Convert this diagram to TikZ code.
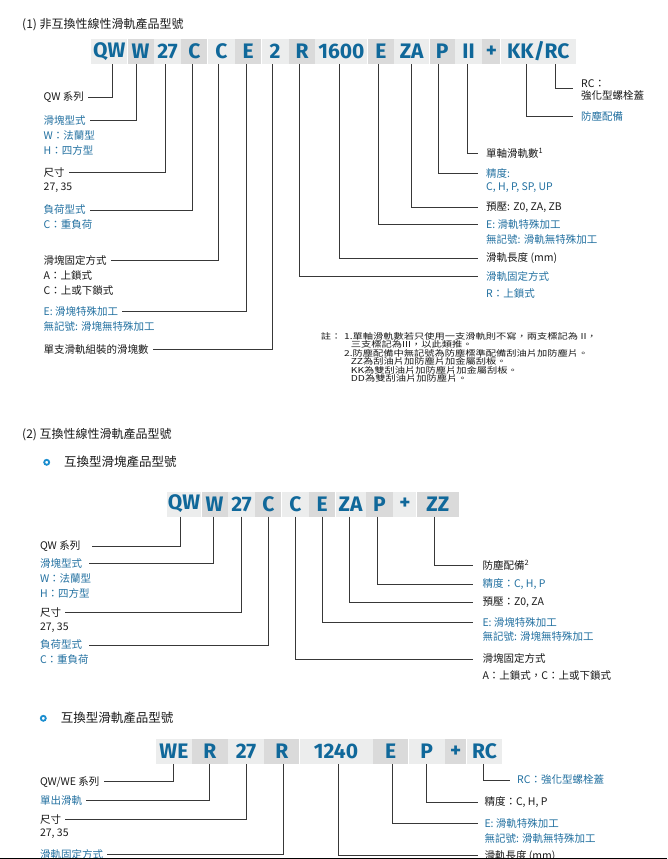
\documentclass[tikz,border=0pt]{standalone}
\usepackage{fontspec}
\setmainfont{Noto Sans CJK TC}
\newfontfamily\codefont{Fira Sans}
\newfontfamily\notefont{Noto Sans CJK TC}[FakeStretch=1.25]
\usepackage{tikz}
\usetikzlibrary{
    positioning
}
\usepackage{xcolor}
\definecolor{codeblue}{HTML}{10689A}
\definecolor{labelblue}{HTML}{2270A0}
\definecolor{celllight}{HTML}{ECEDED}
\definecolor{celldark}{HTML}{DADADA}
\definecolor{leadgray}{HTML}{383838}
\definecolor{ringblue}{HTML}{1C8ECF}
\tikzstyle{cell} = [
    rectangle,
    inner sep=0pt,
    minimum height=25pt,
    text=codeblue,
    font=\codefont\bfseries\fontsize{21}{21}\selectfont
]
\tikzstyle{lcell} = [cell, fill=celllight]
\tikzstyle{dcell} = [cell, fill=celldark]
\tikzstyle{lbl} = [
    anchor=west,
    inner ysep=0pt,
    inner xsep=4pt,
    text=black!90,
    font=\fontsize{10.5}{12}\selectfont
]
\tikzstyle{blbl} = [lbl, text=labelblue]
\tikzstyle{rlbl} = [lbl, inner xsep=8pt]
\tikzstyle{rblbl} = [blbl, inner xsep=8pt]
\tikzstyle{leader} = [
    draw=leadgray,
    line width=1pt
]
\tikzstyle{heading} = [
    anchor=west,
    inner sep=0pt,
    text=black!90,
    font=\fontsize{12}{14}\selectfont
]
\tikzstyle{note} = [
    anchor=west,
    inner sep=0pt,
    text=black!90,
    font=\notefont\fontsize{8.2}{9}\selectfont
]
\tikzstyle{ring} = [draw=ringblue, line width=1.8pt]

\begin{document}
\begin{tikzpicture}[x=1pt, y=-1pt]
    \useasboundingbox (0,0) rectangle (667,859);

    % (1) code row
    \node[heading] (sec1) at (22,25) {(1) 非互換性線性滑軌產品型號};
    \node[lcell, minimum width=36pt, anchor=west] (qw1) at (91,51.5) {QW};
    \node[dcell, minimum width=26pt, right=0pt of qw1] (w1) {W};
    \node[lcell, minimum width=27pt, right=0pt of w1] (sz1) {27};
    \node[dcell, minimum width=26pt, right=0pt of sz1] (ld1) {C};
    \node[lcell, minimum width=27pt, right=0pt of ld1] (fx1) {C};
    \node[dcell, minimum width=26pt, right=0pt of fx1] (e1) {E};
    \node[lcell, minimum width=27pt, right=0pt of e1] (cnt1) {2};
    \node[dcell, minimum width=26pt, right=0pt of cnt1] (r1) {R};
    \node[lcell, minimum width=52pt, right=0pt of r1] (len1) {1600};
    \node[dcell, minimum width=26pt, right=0pt of len1] (re1) {E};
    \node[lcell, minimum width=35pt, right=0pt of re1] (pre1) {ZA};
    \node[dcell, minimum width=25pt, right=0pt of pre1] (acc1) {P};
    \node[lcell, minimum width=27pt, right=0pt of acc1] (ii1) {II};
    \node[dcell, minimum width=18pt, right=0pt of ii1] (plus1) {+};
    \node[lcell, minimum width=75pt, right=0pt of plus1] (kk1) {KK/RC};

    % (1) left labels
    \node[lbl] (sys1) at (39.5,97.3) {QW 系列};
    \node[blbl] (blk1) at (39.5,120.7) {滑塊型式};
    \node[blbl] (blkw1) at (39.5,135.5) {W：法蘭型};
    \node[blbl] (blkh1) at (39.5,150) {H：四方型};
    \node[lbl] (size1) at (39.5,172.7) {尺寸};
    \node[lbl] (sizev1) at (39.5,188) {27, 35};
    \node[blbl] (load1) at (39.5,210) {負荷型式};
    \node[blbl] (loadc1) at (39.5,225) {C：重負荷};
    \node[lbl] (fix1) at (39.5,260.7) {滑塊固定方式};
    \node[lbl] (fixa1) at (39.5,275.3) {A：上鎖式};
    \node[lbl] (fixc1) at (39.5,290) {C：上或下鎖式};
    \node[blbl] (spe1) at (39.5,311.7) {E: 滑塊特殊加工};
    \node[blbl] (spn1) at (39.5,327) {無記號: 滑塊無特殊加工};
    \node[lbl] (num1) at (39.5,349.3) {單支滑軌組裝的滑塊數};
    \draw[leader] ([xshift=3pt]qw1.south) |- (sys1.east);
    \draw[leader] ([xshift=-4pt]w1.south) |- (blk1.east);
    \draw[leader] ([xshift=-2.5pt]sz1.south) |- (size1.east);
    \draw[leader] ([xshift=-2pt]ld1.south) |- (load1.east);
    \draw[leader] ([xshift=-2.5pt]fx1.south) |- (fix1.east);
    \draw[leader] ([xshift=-2pt]e1.south) |- (spe1.east);
    \draw[leader] ([xshift=-2.5pt]cnt1.south) |- (num1.east);

    % (1) right labels
    \node[rlbl, align=left] (rc1) at (573,90) {RC：\\強化型螺栓蓋};
    \node[rblbl] (dust1) at (573,116.5) {防塵配備};
    \node[rlbl] (rails1) at (478,153.3) {單軸滑軌數\textsuperscript{1}};
    \node[rblbl] (prec1) at (478,173.3) {精度:};
    \node[rblbl] (precv1) at (478,187.5) {C, H, P, SP, UP};
    \node[rlbl] (prel1) at (478,207.3) {預壓: Z0, ZA, ZB};
    \node[rblbl] (rspe1) at (478,224.3) {E: 滑軌特殊加工};
    \node[rblbl] (rspn1) at (478,239.3) {無記號: 滑軌無特殊加工};
    \node[rlbl] (rlen1) at (478,258.3) {滑軌長度 (mm)};
    \node[rblbl] (rfix1) at (478,276.7) {滑軌固定方式};
    \node[rblbl] (rfixr1) at (478,293) {R：上鎖式};
    \draw[leader] ([xshift=17.5pt]kk1.south) |- ([yshift=2pt]rc1.west);
    \draw[leader] ([xshift=-11.5pt]kk1.south) |- (dust1.west);
    \draw[leader] ([xshift=-1.5pt]ii1.south) |- (rails1.west);
    \draw[leader] ([xshift=-4pt]acc1.south) |- (prec1.west);
    \draw[leader] (pre1.south) |- (prel1.west);
    \draw[leader] ([xshift=-2pt]re1.south) |- (rspe1.west);
    \draw[leader] ([xshift=-2pt]len1.south) |- (rlen1.west);
    \draw[leader] ([xshift=-3pt]r1.south) |- (rfix1.west);

    % notes
    \node[note] (nt0) at (320.7,336) {註：};
    \node[note] (nt1) at (344,336) {1.單軸滑軌數若只使用一支滑軌則不寫，兩支標記為 II，};
    \node[note] (nt2) at (350.7,344.5) {三支標記為III，以此類推。};
    \node[note] (nt3) at (344,353.3) {2.防塵配備中無記號為防塵標準配備刮油片加防塵片。};
    \node[note] (nt4) at (350.7,361.5) {ZZ為刮油片加防塵片加金屬刮板。};
    \node[note] (nt5) at (350.7,370) {KK為雙刮油片加防塵片加金屬刮板。};
    \node[note] (nt6) at (350.7,378.7) {DD為雙刮油片加防塵片。};

    % (2) block code row
    \node[heading] (sec2) at (22,435) {(2) 互換性線性滑軌產品型號};
    \draw[ring] (46.7,462.3) circle (2.5pt);
    \node[heading, font=\fontsize{12.5}{14}\selectfont] (sub2) at (64,462) {互換型滑塊產品型號};
    \node[lcell, minimum width=34.3pt, anchor=west] (qw2) at (166.7,504) {QW};
    \node[dcell, minimum width=26pt, right=0pt of qw2] (w2) {W};
    \node[lcell, minimum width=27pt, right=0pt of w2] (sz2) {27};
    \node[dcell, minimum width=26pt, right=0pt of sz2] (ld2) {C};
    \node[lcell, minimum width=27pt, right=0pt of ld2] (fx2) {C};
    \node[dcell, minimum width=26pt, right=0pt of fx2] (e2) {E};
    \node[lcell, minimum width=30pt, right=0pt of e2] (pre2) {ZA};
    \node[dcell, minimum width=27pt, right=0pt of pre2] (acc2) {P};
    \node[lcell, minimum width=23pt, right=0pt of acc2] (plus2) {+};
    \node[dcell, minimum width=42pt, right=0pt of plus2] (zz2) {ZZ};

    \node[lbl] (sys2) at (35.8,546) {QW 系列};
    \node[blbl] (blk2) at (35.8,563.3) {滑塊型式};
    \node[blbl] (blkw2) at (35.8,578) {W：法蘭型};
    \node[blbl] (blkh2) at (35.8,593.3) {H：四方型};
    \node[lbl] (size2) at (35.8,612.7) {尺寸};
    \node[lbl] (sizev2) at (35.8,627.3) {27, 35};
    \node[blbl] (load2) at (35.8,645) {負荷型式};
    \node[blbl] (loadc2) at (35.8,660) {C：重負荷};
    \draw[leader] ([xshift=-4pt]qw2.south) |- ([xshift=8pt]sys2.east);
    \draw[leader] ([xshift=-1pt]w2.south) |- ([xshift=3pt]blk2.east);
    \draw[leader] (sz2.south) |- (size2.east);
    \draw[leader] (ld2.south) |- ([xshift=3pt]load2.east);

    \node[rlbl, inner xsep=9pt] (dust2) at (473.3,565.7) {防塵配備\textsuperscript{2}};
    \node[rblbl, inner xsep=9pt] (prec2) at (473.3,584) {精度：C, H, P};
    \node[rlbl, inner xsep=9pt] (prel2) at (473.3,602.3) {預壓：Z0, ZA};
    \node[rblbl, inner xsep=9pt] (spe2) at (473.3,622.7) {E: 滑塊特殊加工};
    \node[rblbl, inner xsep=9pt] (spn2) at (473.3,636.7) {無記號: 滑塊無特殊加工};
    \node[rlbl, inner xsep=9pt] (fix2) at (473.3,659) {滑塊固定方式};
    \node[rlbl, inner xsep=9pt] (fixv2) at (473.3,675) {A：上鎖式，C：上或下鎖式};
    \draw[leader] ([xshift=-3pt]zz2.south) |- (dust2.west);
    \draw[leader] ([xshift=-2.5pt]acc2.south) |- (prec2.west);
    \draw[leader] ([xshift=-1pt]pre2.south) |- (prel2.west);
    \draw[leader] (e2.south) |- (spe2.west);
    \draw[leader] (fx2.south) |- (fix2.west);

    % (2) rail code row
    \draw[ring] (43.3,718.3) circle (2.5pt);
    \node[heading, font=\fontsize{12.5}{14}\selectfont] (sub3) at (60.7,718) {互換型滑軌產品型號};
    \node[lcell, minimum width=36pt, anchor=west] (we3) at (155.7,751.5) {WE};
    \node[dcell, minimum width=35.3pt, right=0pt of we3] (r3) {R};
    \node[lcell, minimum width=36pt, right=0pt of r3] (sz3) {27};
    \node[dcell, minimum width=34.7pt, right=0pt of sz3] (fx3) {R};
    \node[lcell, minimum width=73pt, right=0pt of fx3] (len3) {1240};
    \node[dcell, minimum width=35.3pt, right=0pt of len3] (e3) {E};
    \node[lcell, minimum width=36pt, right=0pt of e3] (acc3) {P};
    \node[dcell, minimum width=21.3pt, right=0pt of acc3] (plus3) {+};
    \node[lcell, minimum width=35.7pt, right=0pt of plus3] (rc3) {RC};

    \node[lbl] (sys3) at (35.8,781.7) {QW/WE 系列};
    \node[blbl] (rail3) at (35.8,800.7) {單出滑軌};
    \node[lbl] (size3) at (35.8,819.3) {尺寸};
    \node[lbl] (sizev3) at (35.8,834) {27, 35};
    \node[blbl] (fix3) at (35.8,854.3) {滑軌固定方式};
    \draw[leader] (we3.south) |- (sys3.east);
    \draw[leader] (r3.south) |- (rail3.east);
    \draw[leader] (sz3.south) |- (size3.east);
    \draw[leader] ([xshift=2pt]fx3.south) |- (fix3.east);

    \node[rblbl, inner xsep=7pt] (cap3) at (510,780) {RC：強化型螺栓蓋};
    \node[rlbl, inner xsep=6pt] (prec3) at (478.3,802.3) {精度：C, H, P};
    \node[rblbl, inner xsep=6pt] (spe3) at (478.3,823.3) {E: 滑軌特殊加工};
    \node[rblbl, inner xsep=6pt] (spn3) at (478.3,838.3) {無記號: 滑軌無特殊加工};
    \node[rlbl, inner xsep=6pt] (len3l) at (478.3,855.7) {滑軌長度 (mm)};
    \draw[leader] ([xshift=-1pt]rc3.south) |- (cap3.west);
    \draw[leader] (acc3.south) |- (prec3.west);
    \draw[leader] ([xshift=1.5pt]e3.south) |- (spe3.west);
    \draw[leader] ([xshift=2.5pt]len3.south) |- (len3l.west);

    \draw[black, line width=1.2pt] (0,858.5) -- (667,858.5);
\end{tikzpicture}
\end{document}
